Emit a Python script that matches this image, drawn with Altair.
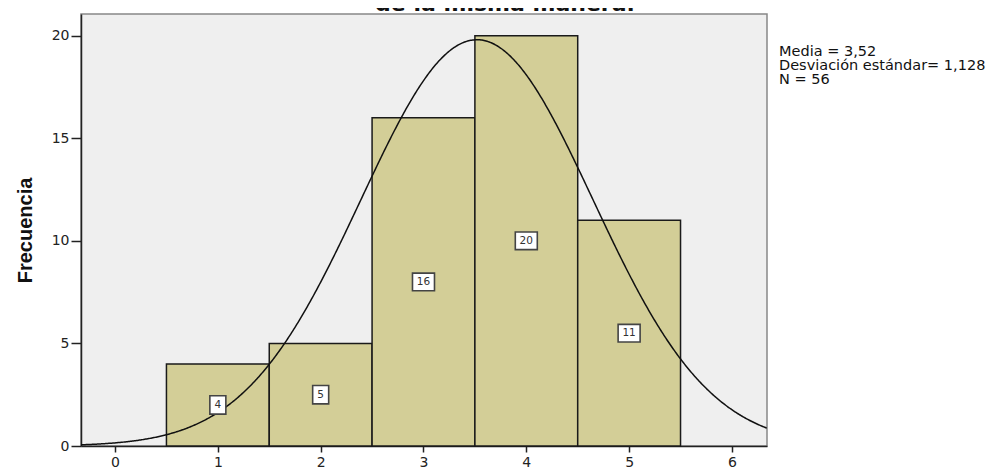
import altair as alt
import pandas as pd

# ---- data ----
bin_centers = [1, 2, 3, 4, 5]
counts = [4, 5, 16, 20, 11]
bin_width = 1.0
mean_val = 3.52
sd_val = 1.128
n_total = 56
x_ticks = [0, 1, 2, 3, 4, 5, 6]
y_ticks = [0, 5, 10, 15, 20]
stats_lines = ["Media = 3,52", "Desviación estándar= 1,128", "N = 56"]
title_text = "de la misma manera."
y_title = "Frecuencia"

XMIN, XMAX = -0.331, 6.341
YMAX = 21.06
W, H = 686, 432

df = pd.DataFrame({"center": bin_centers, "count": counts})
df["lo"] = df["center"] - bin_width / 2
df["hi"] = df["center"] + bin_width / 2
df["half"] = df["count"] / 2
df["zero"] = 0
df["label"] = df["count"].astype(str)

xscale = alt.Scale(domain=[XMIN, XMAX], nice=False, zero=False)
yscale = alt.Scale(domain=[0, YMAX], nice=False)

base = alt.Chart(df)

bars = base.mark_rect(fill="#D3CE97", stroke="#1a1a1a", strokeWidth=1.5).encode(
    x=alt.X("lo:Q", scale=xscale,
            axis=alt.Axis(values=x_ticks, title=None, format="d", grid=False,
                          tickSize=6, labelPadding=3)),
    x2="hi:Q",
    y=alt.Y("count:Q", scale=yscale,
            axis=alt.Axis(values=y_ticks, title=y_title, format="d", grid=False,
                          tickSize=10, labelPadding=2,
                          titleFont="Liberation Sans", titleFontSize=20,
                          titleFontWeight="bold", titleColor="#111",
                          titleAngle=270, titleBaseline="alphabetic",
                          titleX=-50, titleY=216, titleAlign="center")),
    y2="zero:Q",
)

curve = alt.Chart(alt.sequence(XMIN, XMAX + 0.005, 0.01, as_="x")).transform_calculate(
    dens=f"{n_total * bin_width}*exp(-0.5*pow((datum.x-{mean_val})/{sd_val},2))/({sd_val}*sqrt(2*PI))"
).mark_line(color="#111111", strokeWidth=1.5, clip=True).encode(
    x=alt.X("x:Q", scale=xscale),
    y=alt.Y("dens:Q", scale=yscale),
)

box2 = base.transform_filter("datum.count >= 10").mark_point(
    shape="M-1,-0.8H1V0.8H-1Z", size=484, filled=True, fill="white",
    fillOpacity=1, stroke="#444444", strokeWidth=1.6, opacity=1,
).encode(x=alt.X("center:Q", scale=xscale), y=alt.Y("half:Q", scale=yscale))

box1 = base.transform_filter("datum.count < 10").mark_point(
    shape="M-1,-1.15H1V1.15H-1Z", size=256, filled=True, fill="white",
    fillOpacity=1, stroke="#444444", strokeWidth=1.6, opacity=1,
).encode(x=alt.X("center:Q", scale=xscale), y=alt.Y("half:Q", scale=yscale))

labels = base.mark_text(font="DejaVu Sans", fontSize=10.5, color="#333333",
                        align="center", baseline="middle").encode(
    x=alt.X("center:Q", scale=xscale), y=alt.Y("half:Q", scale=yscale),
    text="label:N",
)

stats = alt.Chart(df).transform_filter("datum.center == 1").mark_text(
    text=stats_lines, font="DejaVu Sans", fontSize=14.5, lineHeight=14,
    align="left", baseline="alphabetic", color="#111111",
).encode(x=alt.value(698), y=alt.value(42))

title = alt.Chart(df).transform_filter("datum.center == 1").mark_text(
    text=title_text, font="DejaVu Sans", fontSize=22, fontWeight="bold",
    align="center", baseline="alphabetic", color="#111111",
).encode(x=alt.value(424), y=alt.value(-3))

chart = alt.layer(bars, curve, box1, box2, labels, stats, title).properties(
    width=W, height=H,
    autosize=alt.AutoSizeParams(type="none"),
    padding={"left": 73, "top": 6, "right": 231, "bottom": 22},
).configure_view(
    fill="#EFEFEF", stroke="#888888", strokeWidth=1.5,
).configure_axis(
    domainColor="#222222", domainWidth=1.5, tickColor="#222222", tickWidth=1.5,
    labelFont="DejaVu Sans", labelFontSize=14, labelColor="#222222",
)

chart.save("out.html", embed_options={"renderer": "svg", "actions": False})
